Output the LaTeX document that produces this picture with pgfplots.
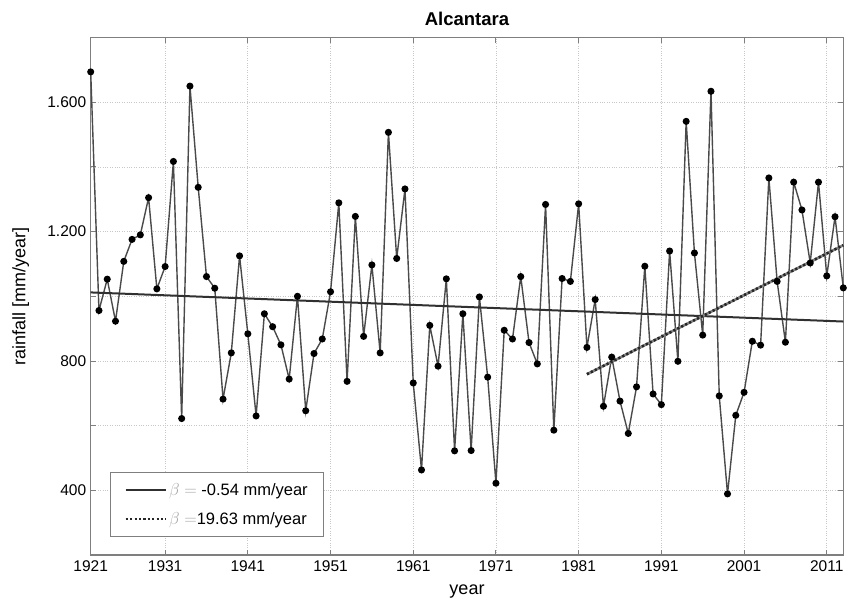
\documentclass[border=0pt]{standalone}
\usepackage{pgfplots}
\pgfplotsset{compat=1.18}
\usepackage{fontspec}
\setmainfont{Liberation Sans}
\definecolor{axgray}{HTML}{7F7F7F}
\definecolor{gridgray}{HTML}{C8C8C8}
\definecolor{linegray}{HTML}{4A4A4A}
\definecolor{trendgray}{HTML}{303030}
\begin{document}
\begin{tikzpicture}
\useasboundingbox (-90.7pt,-48pt) rectangle (765.3pt,555pt);
\begin{axis}[
  at={(0pt,0pt)}, anchor=south west,
  scale only axis,
  width=752.6pt, height=517.4pt,
  xmin=1921, xmax=2012,
  ymin=200, ymax=1800,
  axis line style={draw=axgray, line width=1.1pt},
  tick style={draw=axgray, line width=0.9pt},
  tick align=inside,
  major tick length=5pt,
  minor tick length=5pt,
  xtick={1921,1930,1940,1950,1960,1970,1980,1990,2000,2010},
  xticklabels={1921,1931,1941,1951,1961,1971,1981,1991,2001,2011},
  ytick={400,800,1200,1600},
  yticklabels={400,800,{1.200},{1.600}},
  minor ytick={600,1000,1400},
  grid=both,
  major grid style={draw=gridgray, dotted, line width=0.8pt},
  minor grid style={draw=gridgray, dotted, line width=0.8pt},
  tick label style={font=\fontsize{15.5}{18}\selectfont, text=black},
  xticklabel style={yshift=-2pt},
  yticklabel style={xshift=-1pt},
  xlabel={year},
  ylabel={rainfall [mm/year]},
  every axis x label/.style={at={(axis description cs:0.5,0)}, anchor=center, yshift=-37pt, font=\fontsize{18}{21}\selectfont},
  every axis y label/.style={at={(axis description cs:-0.093,0.5)}, anchor=center, rotate=90, font=\fontsize{18}{21}\selectfont},
  title={\textbf{Alcantara}},
  every axis title/.style={at={(axis description cs:0.5,1)}, anchor=center, yshift=19pt, font=\fontsize{18.5}{21}\selectfont},
  legend style={at={(rel axis cs:0.0257,0.0348)}, anchor=south west,
    draw=axgray, line width=0.8pt, fill=white,
    font=\fontsize{16.5}{19}\selectfont,
    inner xsep=14pt, inner ysep=9pt,
    row sep=11pt,
    legend cell align=left},
  legend image code/.code={\draw[#1] (0pt,0pt) -- (40pt,0pt);},
  clip=false,
]
\addplot[color=linegray, line width=1.4pt, mark=*, mark size=2.8pt,
  mark options={fill=black, draw=black, solid}, forget plot] table {
1921 1694
1922 956
1923 1053
1924 923
1925 1108
1926 1176
1927 1190
1928 1305
1929 1023
1930 1092
1931 1417
1932 622
1933 1650
1934 1337
1935 1061
1936 1025
1937 682
1938 825
1939 1125
1940 884
1941 630
1942 946
1943 906
1944 850
1945 744
1946 1000
1947 646
1948 823
1949 868
1950 1014
1951 1289
1952 737
1953 1247
1954 876
1955 1097
1956 825
1957 1507
1958 1117
1959 1332
1960 732
1961 463
1962 910
1963 784
1964 1054
1965 522
1966 946
1967 523
1968 998
1969 750
1970 422
1971 895
1972 868
1973 1061
1974 857
1975 791
1976 1284
1977 586
1978 1055
1979 1046
1980 1286
1981 842
1982 990
1983 660
1984 812
1985 676
1986 576
1987 720
1988 1093
1989 698
1990 665
1991 1140
1992 799
1993 1541
1994 1134
1995 880
1996 1634
1997 692
1998 389
1999 632
2000 703
2001 861
2002 849
2003 1366
2004 1046
2005 858
2006 1353
2007 1267
2008 1103
2009 1353
2010 1063
2011 1246
2012 1026
};
\addplot[color=trendgray, line width=2pt, forget plot] coordinates {(1921,1012) (2012,922)};
\addplot[color=gray, line width=2.6pt, forget plot] coordinates {(1981,759) (2012,1158)};
\addplot[color=black!85, line width=2.6pt, dash pattern=on 2.2pt off 2.2pt, forget plot] coordinates {(1981,759) (2012,1158)};
\addlegendimage{color=trendgray, line width=2pt}
\addlegendentry{\textcolor{gray!70}{$\beta=$} -0.54 mm/year}
\addlegendimage{color=black!85, line width=2.6pt, dash pattern=on 2.2pt off 2.2pt}
\addlegendentry{\textcolor{gray!70}{$\beta=$}19.63 mm/year}
\end{axis}
\end{tikzpicture}
\end{document}
